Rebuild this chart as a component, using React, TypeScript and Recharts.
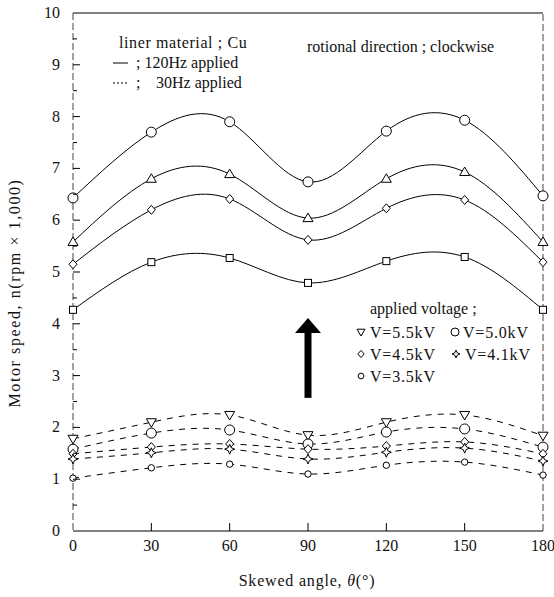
import React from "react";
import { LineChart, Line, XAxis, YAxis, ReferenceLine, ReferenceDot } from "recharts";

const angles = [0, 30, 60, 90, 120, 150, 180];
const hz120Circle = [6.43, 7.7, 7.9, 6.74, 7.72, 7.93, 6.47];
const hz120Triangle = [5.58, 6.8, 6.89, 6.04, 6.8, 6.93, 5.58];
const hz120Diamond = [5.15, 6.2, 6.41, 5.62, 6.23, 6.39, 5.19];
const hz120Square = [4.27, 5.19, 5.27, 4.79, 5.21, 5.29, 4.27];
const hz30V55 = [1.78, 2.1, 2.24, 1.85, 2.1, 2.24, 1.84];
const hz30V50 = [1.58, 1.89, 1.95, 1.68, 1.91, 1.97, 1.62];
const hz30V45 = [1.49, 1.62, 1.68, 1.58, 1.64, 1.72, 1.49];
const hz30V41 = [1.39, 1.51, 1.58, 1.39, 1.52, 1.6, 1.35];
const hz30V35 = [1.02, 1.22, 1.29, 1.1, 1.27, 1.33, 1.08];

const xTicks = [0, 30, 60, 90, 120, 150, 180];
const yMajorTicks = [0, 1, 2, 3, 4, 5, 6, 7, 8, 9, 10];
const yMinorTicks = [0.5, 1.5, 2.5, 3.5, 4.5, 5.5, 6.5, 7.5, 8.5, 9.5];
const yTicks = [...yMajorTicks, ...yMinorTicks].sort((a, b) => a - b);

const data = angles.map((a, i) => ({
  angle: a,
  c1: hz120Circle[i],
  c2: hz120Triangle[i],
  c3: hz120Diamond[i],
  c4: hz120Square[i],
  d1: hz30V55[i],
  d2: hz30V50[i],
  d3: hz30V45[i],
  d4: hz30V41[i],
  d5: hz30V35[i],
}));

const FONT = "'Liberation Serif', 'Times New Roman', serif";
const ST = { fill: "#fff", stroke: "#000", strokeWidth: 1 };

type ShapeKind = "circle" | "smallCircle" | "triUp" | "triDown" | "diamond" | "square" | "star";

function Marker({ kind, cx, cy, s = 1 }: { kind: ShapeKind; cx: number; cy: number; s?: number }) {
  switch (kind) {
    case "circle":
      return <circle cx={cx} cy={cy} r={5 * s} {...ST} />;
    case "smallCircle":
      return <circle cx={cx} cy={cy} r={3.2 * s} {...ST} />;
    case "triUp":
      return <polygon points={`${cx},${cy - 5 * s} ${cx - 5 * s},${cy + 3.5 * s} ${cx + 5 * s},${cy + 3.5 * s}`} {...ST} />;
    case "triDown":
      return <polygon points={`${cx},${cy + 5 * s} ${cx - 5 * s},${cy - 3.5 * s} ${cx + 5 * s},${cy - 3.5 * s}`} {...ST} />;
    case "diamond":
      return <polygon points={`${cx},${cy - 4.5 * s} ${cx + 4 * s},${cy} ${cx},${cy + 4.5 * s} ${cx - 4 * s},${cy}`} {...ST} />;
    case "square":
      return <rect x={cx - 3.5 * s} y={cy - 3.5 * s} width={7 * s} height={7 * s} {...ST} />;
    case "star": {
      const a = 5 * s;
      const b = 1.5 * s;
      return (
        <path
          d={`M${cx},${cy - a} L${cx + b},${cy - b} L${cx + a},${cy} L${cx + b},${cy + b} L${cx},${cy + a} L${cx - b},${cy + b} L${cx - a},${cy} L${cx - b},${cy - b} Z`}
          {...ST}
        />
      );
    }
  }
  return null;
}

const dotFor = (kind: ShapeKind) => (p: any) => (
  <Marker key={`${kind}-${p.index}`} kind={kind} cx={p.cx} cy={p.cy} />
);

const XTick = (p: any) => {
  const v = p.payload.value;
  return (
    <g>
      {v !== 0 && v !== 180 && <line x1={p.x} y1={p.y} x2={p.x} y2={p.y - 8} stroke="#000" />}
      <text x={p.x} y={p.y + 20} textAnchor="middle" fontFamily={FONT} fontSize={16} fill="#111">
        {v}
      </text>
    </g>
  );
};

const YTick = (p: any) => {
  const v = p.payload.value;
  const major = Number.isInteger(v);
  return (
    <g>
      {v !== 0 && v !== 10 && <line x1={p.x} y1={p.y} x2={p.x + (major ? 7 : 4)} y2={p.y} stroke="#000" />}
      {major && (
        <text x={p.x - 13} y={p.y + 5} textAnchor="end" fontFamily={FONT} fontSize={16} fill="#111">
          {v}
        </text>
      )}
    </g>
  );
};

const solidSeries: { key: string; kind: ShapeKind }[] = [
  { key: "c1", kind: "circle" },
  { key: "c2", kind: "triUp" },
  { key: "c3", kind: "diamond" },
  { key: "c4", kind: "square" },
];
const dashedSeries: { key: string; kind: ShapeKind }[] = [
  { key: "d1", kind: "triDown" },
  { key: "d2", kind: "circle" },
  { key: "d3", kind: "diamond" },
  { key: "d4", kind: "star" },
  { key: "d5", kind: "smallCircle" },
];

const txt = { fontFamily: FONT, fontSize: 16, fill: "#111" } as const;

export default function App() {
  return (
    <div style={{ position: "absolute", left: 0, top: 0, width: 554, height: 597, background: "#fff" }}>
      <LineChart width={554} height={597} data={data} margin={{ top: 13, right: 11, bottom: 0, left: 0 }}>
        <XAxis
          dataKey="angle"
          type="number"
          domain={[0, 180]}
          ticks={xTicks}
          interval={0}
          height={66}
          tickSize={0}
          tickMargin={0}
          tickLine={false}
          axisLine={{ stroke: "#000", strokeWidth: 1.2 }}
          tick={<XTick />}
        />
        <YAxis
          type="number"
          domain={[0, 10]}
          ticks={yTicks}
          interval={0}
          width={73}
          tickSize={0}
          tickMargin={0}
          tickLine={false}
          axisLine={{ stroke: "#444", strokeDasharray: "7 3" }}
          tick={<YTick />}
        />
        <ReferenceLine y={10} stroke="#000" strokeWidth={1.2} />
        <ReferenceLine x={180} stroke="#444" strokeDasharray="7 3" />
        {dashedSeries.map((s) => (
          <Line
            key={s.key}
            dataKey={s.key}
            type="natural"
            stroke="#000"
            strokeWidth={1}
            strokeDasharray="6 6"
            dot={dotFor(s.kind)}
            isAnimationActive={false}
          />
        ))}
        {solidSeries.map((s) => (
          <Line
            key={s.key}
            dataKey={s.key}
            type="natural"
            stroke="#000"
            strokeWidth={1}
            dot={dotFor(s.kind)}
            isAnimationActive={false}
          />
        ))}
        <ReferenceLine segment={[{ x: 90, y: 2.57 }, { x: 90, y: 3.86 }]} stroke="#000" strokeWidth={7} />
        <ReferenceDot
          x={90}
          y={4.11}
          shape={(p: any) => (
            <polygon points={`${p.cx},${p.cy} ${p.cx - 13},${p.cy + 15} ${p.cx + 13},${p.cy + 15}`} fill="#000" />
          )}
        />
      </LineChart>
      <svg width={554} height={597} style={{ position: "absolute", left: 0, top: 0, pointerEvents: "none" }}>
        <text {...txt} x={119} y={48} letterSpacing={0.6}>liner material ; Cu</text>
        <line x1={113} y1={63} x2={128} y2={63} stroke="#000" />
        <text {...txt} x={136} y={68}>; 120Hz applied</text>
        <line x1={113} y1={83} x2={128} y2={83} stroke="#000" strokeDasharray="2 2" />
        <text {...txt} x={136} y={88}>;</text>
        <text {...txt} x={156} y={88}>30Hz applied</text>
        <text {...txt} x={307} y={52}>rotional direction ; clockwise</text>

        <text {...txt} x={370} y={314}>applied voltage ;</text>
        <Marker kind="triDown" cx={361} cy={332} s={0.8} />
        <text {...txt} x={370} y={338} letterSpacing={0.8}>V=5.5kV</text>
        <Marker kind="circle" cx={455} cy={332} s={0.8} />
        <text {...txt} x={463} y={338} letterSpacing={0.8}>V=5.0kV</text>
        <Marker kind="diamond" cx={361} cy={354} s={0.8} />
        <text {...txt} x={370} y={360} letterSpacing={0.8}>V=4.5kV</text>
        <Marker kind="star" cx={456} cy={354} s={0.8} />
        <text {...txt} x={465} y={360} letterSpacing={0.8}>V=4.1kV</text>
        <Marker kind="smallCircle" cx={361} cy={376} s={0.9} />
        <text {...txt} x={370} y={382} letterSpacing={0.8}>V=3.5kV</text>

        <text
          {...txt}
          x={20}
          y={293}
          textAnchor="middle"
          letterSpacing={1.6}
          transform="rotate(-90 20 293)"
        >
          Motor speed, n(rpm × 1,000)
        </text>
        <text {...txt} x={307} y={586} textAnchor="middle" letterSpacing={0.8}>
          Skewed angle, <tspan fontStyle="italic">θ</tspan>(°)
        </text>
      </svg>
    </div>
  );
}
